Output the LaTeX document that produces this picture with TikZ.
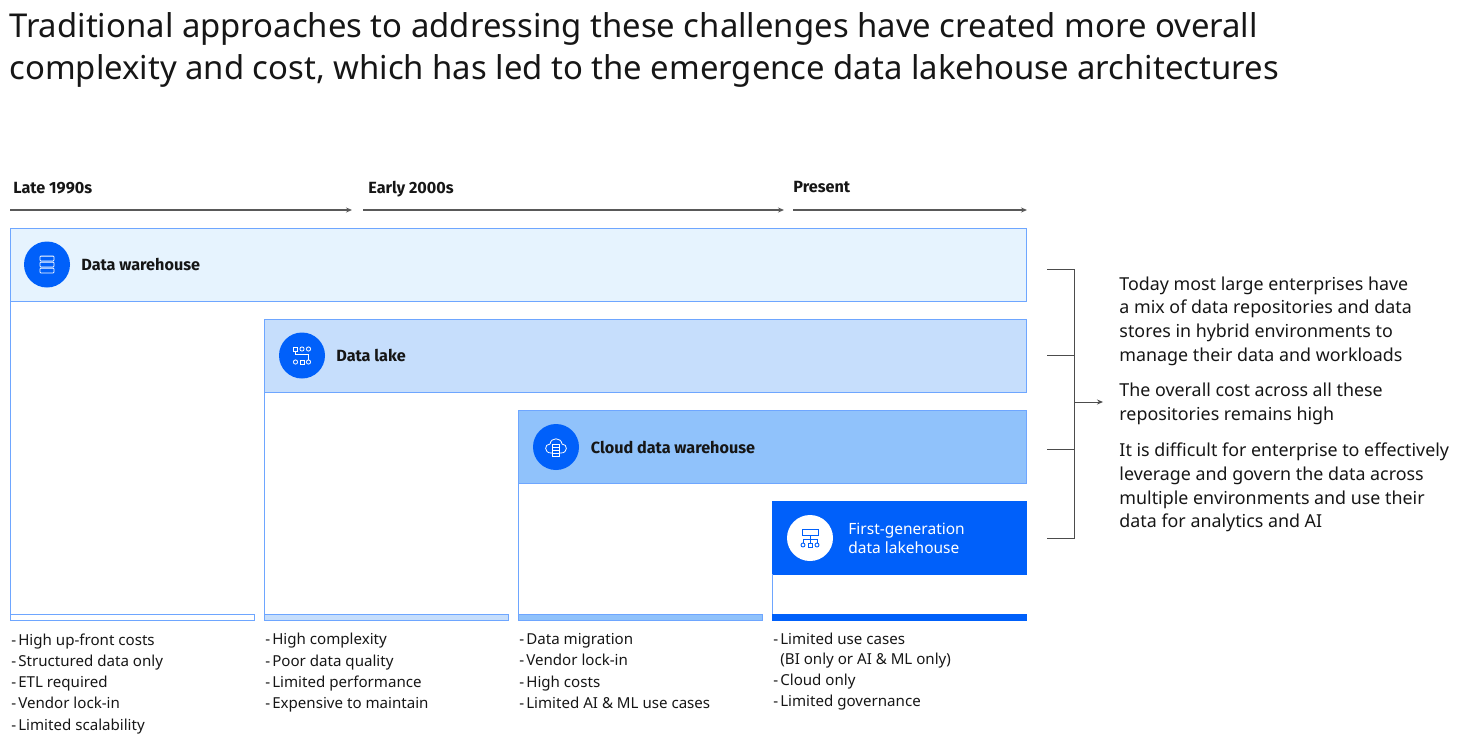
\documentclass[tikz,border=0pt]{standalone}
\usepackage{fontspec}
\setmainfont{Noto Sans}
\newfontfamily\semibold{Fira Sans}
\usetikzlibrary{positioning, arrows.meta}

\definecolor{ibmblue}{HTML}{0060FA}
\definecolor{edgeblue}{HTML}{6EA6FF}
\definecolor{shadeone}{HTML}{E6F3FE}
\definecolor{shadetwo}{HTML}{C6DEFC}
\definecolor{shadethree}{HTML}{90C2FB}
\definecolor{inkdark}{HTML}{161616}

\newcommand{\sized}[2]{\fontsize{#1}{#2}\selectfont}
\newcommand{\lead}{-\kern2pt}

\begin{document}
\begin{tikzpicture}[
                x = 1pt, y = -1pt,
                > = {Stealth[length = 6pt, width = 5pt]}, % arrow head style
                line width = .9pt,
                band/.style = {draw = edgeblue, rectangle, inner sep = 0pt, outer sep = 0pt, anchor = north west,
                minimum height = 73pt},
                foot/.style = {band, minimum height = 6pt},
                badge/.style = {circle, fill = ibmblue, inner sep = 0pt, minimum size = 46pt},
                bandname/.style = {font = \sized{16.2}{19}\semibold\bfseries, text = inkdark, inner sep = 0pt, align = left},
                era/.style = {font = \sized{16.2}{18}\semibold\bfseries, text = inkdark, inner sep = 0pt, anchor = base west},
                cons/.style = {font = \sized{15.1}{21.3}, text = inkdark, inner sep = 0pt, anchor = north west, align = left},
                note/.style = {font = \sized{17.85}{23.7}, text = inkdark, inner sep = 0pt, anchor = north west, align = left},
                timeline/.style = {->, draw = black!65, line width = 1.2pt},
                bracket/.style = {draw = black!70, line width = 1pt}
            ]

            \useasboundingbox (0,0) rectangle (1461,747);

            % heading
            \node (title) [inner sep = 0pt, anchor = north west, align = left, text = inkdark,
            font = \sized{32.85}{42.5}] at (9,12) {Traditional approaches to addressing these challenges have created more overall\\
            complexity and cost, which has led to the emergence data lakehouse architectures};

            % time line
            \node (t1) [era] at (13,193) {Late 1990s};
            \node (t2) [era] at (368,193) {Early 2000s};
            \node (t3) [era] at (793,192.5) {Present};
            \coordinate (a1) at (10,210); \coordinate (b1) at (352,210);
            \coordinate (a2) at (363,210); \coordinate (b2) at (784,210);
            \coordinate (a3) at (793,210); \coordinate (b3) at (1027,210);
            \draw[timeline] (a1) -- (b1);
            \draw[timeline] (a2) -- (b2);
            \draw[timeline] (a3) -- (b3);

            % bands
            \node (wh) [band, fill = shadeone, minimum width = 1016.5pt] at (10,228) {};
            \node (lk) [band, fill = shadetwo, minimum width = 762.5pt] at (264,319) {};
            \node (cl) [band, fill = shadethree, minimum width = 508.5pt] at (518,410.5) {};
            \node (fg) [band, draw = ibmblue, fill = ibmblue, minimum width = 254.5pt] at (772,501) {};

            % feet
            \node (f1) [foot, fill = white, minimum width = 244pt] at (10,614) {};
            \node (f2) [foot, fill = shadetwo, minimum width = 244pt] at (264,614) {};
            \node (f3) [foot, fill = shadethree, minimum width = 244pt] at (518,614) {};
            \node (f4) [foot, draw = ibmblue, fill = ibmblue, minimum width = 254.5pt] at (772,614) {};

            \draw[edgeblue] (wh.south west) -- (f1.north west);
            \draw[edgeblue] (lk.south west) -- (f2.north west);
            \draw[edgeblue] (cl.south west) -- (f3.north west);
            \draw[edgeblue] (fg.south west) -- (f4.north west);

            % badges, with their icons
            \node (c1) [badge] at (47,264.5) {};
            \node (c2) [badge] at (302,355.5) {};
            \node (c3) [badge] at (556,447) {};
            \node (c4) [badge, fill = white] at (810,538) {};

            \begin{scope}[shift = {(c1.center)}, draw = white, line width = .8pt]
                \foreach \y in {-6,0,6} {
                    \draw[rounded corners = .8pt] (-7,\y-2.4) rectangle (7,\y+2.4);
                }
            \end{scope}

            \begin{scope}[shift = {(c2.center)}, draw = white, line width = .8pt]
                \draw (-8.5,-8.5) rectangle (-4.5,-4.5);
                \draw (0,-6.5) circle (2.1);
                \draw (6.5,-6.5) circle (2.1);
                \draw (-6.5,-4.5) -- (-6.5,-1) -- (6.5,-1) -- (6.5,4.5);
                \draw (-6.5,6.5) circle (2.1);
                \draw (-2,4.5) rectangle (2,8.5);
                \draw (6.5,6.5) circle (2.1);
            \end{scope}

            \begin{scope}[shift = {(c3.center)}, draw = white, line width = .8pt]
                \draw (-4,6) -- (-5,6) .. controls (-12,6) and (-12,-3) .. (-6,-3)
                .. controls (-5,-10) and (5,-10) .. (6,-3)
                .. controls (12,-3) and (12,6) .. (5,6) -- (4,6);
                \draw[fill = ibmblue] (-3.5,-3) rectangle (3.5,9);
                \foreach \y in {0,3,6} {
                    \draw (-3.5,\y) -- (3.5,\y);
                }
            \end{scope}

            \begin{scope}[shift = {(c4.center)}, draw = ibmblue, line width = .9pt]
                \draw (-8,-9) rectangle (8,-3);
                \draw (0,-3) -- (0,5);
                \draw (-7,5) -- (-7,1) -- (7,1) -- (7,5);
                \draw (-7,7) circle (2);
                \draw (-2,5) rectangle (2,9);
                \draw (7,7) circle (2);
            \end{scope}

            % band names
            \node (n1) [bandname, right = 10.5pt of c1] {Data warehouse};
            \node (n2) [bandname, right = 10.5pt of c2] {Data lake};
            \node (n3) [bandname, right = 11pt of c3] {Cloud data warehouse};
            \node (n4) [bandname, right = 14.5pt of c4, text = white, font = \sized{15.5}{19}] {First-generation\\data lakehouse};

            % lists
            \node (l1) [cons] at (11,633) {\lead High up-front costs\\\lead Structured data only\\\lead ETL required\\\lead Vendor lock-in\\\lead Limited scalability};
            \node (l2) [cons] at (265,633) {\lead High complexity\\\lead Poor data quality\\\lead Limited performance\\\lead Expensive to maintain};
            \node (l3) [cons] at (519,633) {\lead Data migration\\\lead Vendor lock-in\\\lead High costs\\\lead Limited AI \& ML use cases};
            \node (l4) [cons] at (773,633) {\lead Limited use cases\\[-2pt]\hspace{7pt}(BI only or AI \& ML only)\\\lead Cloud only\\\lead Limited governance};

            % bracket
            \coordinate (k1) at (1047,269); \coordinate (k2) at (1047,355);
            \coordinate (k3) at (1047,449); \coordinate (k4) at (1047,538);
            \coordinate (r1) at (1074,269); \coordinate (r2) at (1074,355);
            \coordinate (r3) at (1074,449); \coordinate (r4) at (1074,538);
            \coordinate (m) at (1074,402); \coordinate (e) at (1103,402);
            \path[bracket] (k1) edge (r1) (k2) edge (r2) (k3) edge (r3) (k4) edge (r4);
            \draw[bracket, line cap = rect] (r1) -- (r4);
            \draw[->, bracket] (m) -- (e);

            % notes
            \node (p1) [note] at (1119,276) {Today most large enterprises have\\a mix of data repositories and data\\stores in hybrid environments to\\manage their data and workloads};
            \node (p2) [note] at (1119,382.5) {The overall cost across all these\\repositories remains high};
            \node (p3) [note] at (1119,442.5) {It is difficult for enterprise to effectively\\leverage and govern the data across\\multiple environments and use their\\data for analytics and AI};

        \end{tikzpicture}
\end{document}
